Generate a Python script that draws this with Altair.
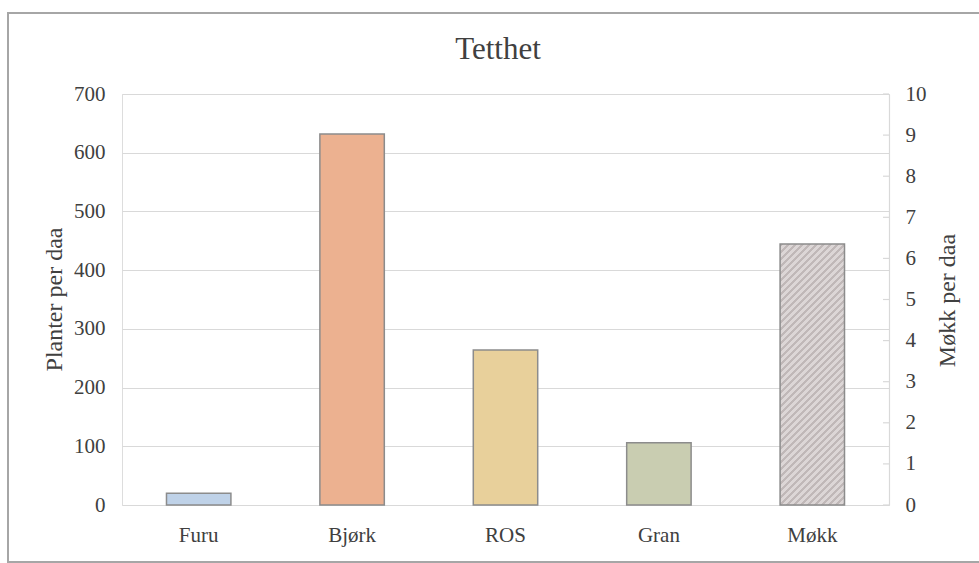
import altair as alt
import pandas as pd

# ---- data ----
categories = ["Furu", "Bjørk", "ROS", "Gran", "Møkk"]
plant_categories = ["Furu", "Bjørk", "ROS", "Gran"]
planter_per_daa = [20, 632, 264, 106]
mokk_category = ["Møkk"]
mokk_per_daa = [6.35]
bar_colors = ["#bfd2e8", "#ecb190", "#e8d09b", "#c9cdb1"]
left_ticks = [0, 100, 200, 300, 400, 500, 600, 700]
right_ticks = [0, 1, 2, 3, 4, 5, 6, 7, 8, 9, 10]
chart_title = ["Tetthet"]

FONT = "Liberation Serif"
TXT = "#404040"
GRID = "#d9d9d9"
W, H = 767, 411

plants = pd.DataFrame({"Kategori": plant_categories, "Planter": planter_per_daa, "Farge": bar_colors})
mokk = pd.DataFrame({"Kategori": mokk_category, "Mokk": mokk_per_daa})
ticks = pd.DataFrame({"t": right_ticks})
frame_df = pd.DataFrame({"a": [0]})
title_df = pd.DataFrame({"tittel": chart_title})

xscale = alt.Scale(domain=categories, paddingInner=0.58, paddingOuter=0.29)
xenc = alt.X("Kategori:N", scale=xscale, sort=categories,
             axis=alt.Axis(title=None, ticks=False, domain=False, labelAngle=0,
                           labelFont=FONT, labelFontSize=21, labelColor=TXT, labelPadding=19))

frame = alt.Chart(frame_df).mark_rect(filled=False, stroke="#a6a6a6", strokeWidth=2).encode(
    x=alt.value(8 - 122), x2=alt.value(990 - 122),
    y=alt.value(13 - 94), y2=alt.value(562 - 94))

title_text = alt.Chart(title_df).mark_text(font=FONT, fontSize=31, color=TXT, align="center",
                                           baseline="alphabetic").encode(
    text="tittel:N", x=alt.value(498 - 122), y=alt.value(59 - 94))

bars = alt.Chart(plants).mark_bar(stroke="#8c8c8c", strokeWidth=1.5).encode(
    x=xenc,
    y=alt.Y("Planter:Q", scale=alt.Scale(domain=[0, 700], nice=False),
            axis=alt.Axis(title="Planter per daa", values=left_ticks, ticks=False, domain=False,
                          grid=True, gridColor=GRID, gridWidth=1.2,
                          labelFont=FONT, labelFontSize=21, labelColor=TXT, labelPadding=17,
                          titleFont=FONT, titleFontSize=24, titleFontWeight="normal", titleColor=TXT,
                          titleAngle=270, titleX=-68, titleY=205, titleAlign="center",
                          titleBaseline="middle")),
    fill=alt.Fill("Farge:N", scale=None),
)

# hatch pattern approximated with a striped linear gradient
bw = W / 5 * (1 - 0.58)
bh = mokk_per_daa[0] / 10 * H
c = (bw + bh) / (bw * bw + bh * bh)
per = 7.0 / (bw + bh)
stops = []
k = 0.0
dark, light = "#c0b8b8", "#dcd6d6"
while k < 1.0:
    a = min(k, 1.0)
    b = min(k + per * 0.45, 1.0)
    e = min(k + per, 1.0)
    stops += [alt.GradientStop(offset=a, color=dark), alt.GradientStop(offset=b, color=dark),
              alt.GradientStop(offset=b, color=light), alt.GradientStop(offset=e, color=light)]
    k += per
hatch = alt.Gradient(gradient="linear", stops=stops, x1=0, y1=0, x2=c * bw, y2=c * bh)

mokk_bar = alt.Chart(mokk).mark_bar(stroke="#8c8c8c", strokeWidth=1.5, fill=hatch).encode(
    x=xenc,
    y=alt.Y("Mokk:Q", scale=alt.Scale(domain=[0, 10], nice=False),
            axis=alt.Axis(title="Møkk per daa", orient="right", values=right_ticks, ticks=False,
                          domain=True, domainColor=GRID, domainWidth=1.2, grid=False,
                          labelFont=FONT, labelFontSize=21, labelColor=TXT, labelPadding=16,
                          titleFont=FONT, titleFontSize=24, titleFontWeight="normal", titleColor=TXT,
                          titleAngle=270, titleX=58, titleY=206, titleAlign="center",
                          titleBaseline="middle")),
)

tick_rules = alt.Chart(ticks).mark_rule(color=GRID, strokeWidth=1.2).encode(
    y=alt.Y("t:Q", scale=alt.Scale(domain=[0, 10], nice=False), axis=None),
    x=alt.value(W - 6), x2=alt.value(W),
)

chart = alt.layer(frame, title_text, bars, mokk_bar, tick_rules).resolve_scale(y="independent").properties(
    width=W, height=H,
    padding={"left": 122, "top": 94, "right": 90, "bottom": 58},
    autosize=alt.AutoSizeParams(type="none"),
).configure_view(stroke=None).configure(background="white", font=FONT)

chart.save("out.html", embed_options={"renderer": "svg", "actions": False})
